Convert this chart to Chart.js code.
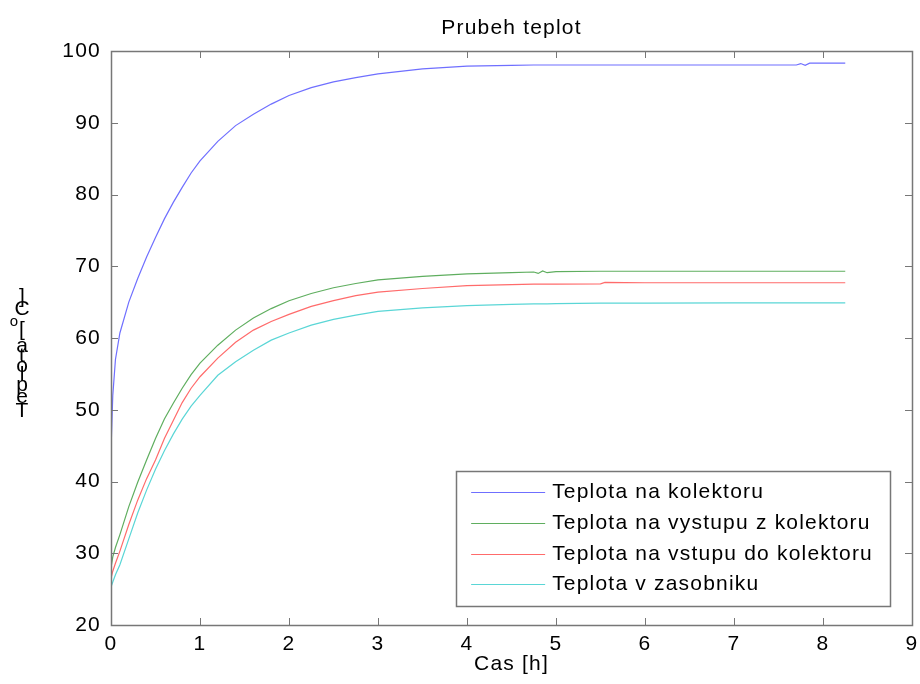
<!DOCTYPE html>
<html>
<head>
<meta charset="utf-8">
<title>Prubeh teplot</title>
<script src="https://cdn.jsdelivr.net/npm/chart.js@4"></script>
<style>
  html, body { margin: 0; padding: 0; background: #fff; }
  canvas { display: block; }
</style>
</head>
<body>
<canvas id="chart" width="920" height="684"></canvas>
<script>
// time axis [h], shared by all four series
const hours = [0, 0.02, 0.05, 0.1, 0.2, 0.3, 0.4, 0.5, 0.6, 0.7, 0.8, 0.9, 1.0, 1.2, 1.4, 1.6, 1.8, 2.0, 2.25, 2.5,
  2.75, 3.0, 3.5, 4.0, 4.5, 4.75, 4.8, 4.85, 4.9, 5.0, 5.5, 5.55, 6.0, 7.0, 7.7, 7.75, 7.8, 7.85, 8.0, 8.25];

// temperatures [oC]
const tKolektor = [44.4, 52.0, 57.0, 60.7, 65.0, 68.3, 71.3, 74.0, 76.6, 78.9, 81.0, 83.0, 84.7, 87.4, 89.6, 91.2, 92.6, 93.8, 94.9, 95.7,
  96.3, 96.8, 97.5, 97.9, 98.0, 98.05, 98.05, 98.05, 98.05, 98.05, 98.05, 98.05, 98.05, 98.05, 98.05, 98.25, 98.0, 98.3, 98.3, 98.3];
const tVystup = [28.0, 29.5, 30.8, 32.6, 36.5, 39.9, 43.0, 46.0, 48.7, 50.9, 53.0, 54.9, 56.5, 59.0, 61.1, 62.8, 64.1, 65.2, 66.2, 67.0,
  67.6, 68.1, 68.6, 68.95, 69.1, 69.2, 69.0, 69.35, 69.1, 69.25, 69.3, 69.3, 69.3, 69.3, 69.3, 69.3, 69.3, 69.3, 69.3, 69.3];
const tVstup = [26.5, 27.5, 28.6, 30.3, 34.0, 37.4, 40.4, 43.0, 46.0, 48.5, 51.0, 53.0, 54.6, 57.2, 59.4, 61.1, 62.3, 63.3, 64.4, 65.2,
  65.9, 66.4, 66.9, 67.3, 67.45, 67.5, 67.5, 67.5, 67.5, 67.5, 67.55, 67.75, 67.7, 67.7, 67.7, 67.7, 67.7, 67.7, 67.7, 67.7];
const tZasobnik = [25.3, 26.0, 27.0, 28.4, 32.0, 35.6, 38.8, 41.7, 44.3, 46.6, 48.7, 50.5, 52.0, 54.8, 56.7, 58.3, 59.7, 60.7, 61.8, 62.6,
  63.2, 63.7, 64.2, 64.5, 64.7, 64.75, 64.75, 64.75, 64.75, 64.8, 64.85, 64.85, 64.85, 64.9, 64.9, 64.9, 64.9, 64.9, 64.9, 64.9];

const seriesNames = ['Teplota na kolektoru', 'Teplota na vystupu z kolektoru', 'Teplota na vstupu do kolektoru', 'Teplota v zasobniku'];
const seriesColors = ['#6f6fff', '#5fae5f', '#ff6b6b', '#5ad6d6'];

const xTicks = { min: 0, max: 9, step: 1 };
const yTicks = { min: 20, max: 100, step: 10 };

const FONT = 'Liberation Sans, Arial, Helvetica, sans-serif';
const SPACING = '1.2px';

function toPoints(values) {
    return values.map((v, i) => ({ x: hours[i], y: v }));
}

// MATLAB-like text spacing
const spacingPlugin = {
    id: 'spacing',
    beforeUpdate(chart) { chart.ctx.letterSpacing = SPACING; },
    beforeLayout(chart) { chart.ctx.letterSpacing = SPACING; },
    beforeDraw(chart) {
        const ctx = chart.ctx;
        ctx.letterSpacing = SPACING;
        ctx.save();
        ctx.fillStyle = '#fff';
        ctx.fillRect(0, 0, chart.width, chart.height);
        ctx.restore();
    }
};

// box around the axes with inward tick marks on all four sides
const framePlugin = {
    id: 'frame',
    afterDraw(chart) {
        const { ctx, chartArea: a, scales } = chart;
        const len = 7;
        ctx.save();
        ctx.strokeStyle = '#777';
        ctx.lineWidth = 1;
        ctx.beginPath();
        scales.x.ticks.forEach(t => {
            const px = Math.round(scales.x.getPixelForValue(t.value)) + 0.5;
            ctx.moveTo(px, a.bottom); ctx.lineTo(px, a.bottom - len);
            ctx.moveTo(px, a.top); ctx.lineTo(px, a.top + len);
        });
        scales.y.ticks.forEach(t => {
            const py = Math.round(scales.y.getPixelForValue(t.value)) + 0.5;
            ctx.moveTo(a.left, py); ctx.lineTo(a.left + len, py);
            ctx.moveTo(a.right, py); ctx.lineTo(a.right - len, py);
        });
        ctx.stroke();
        ctx.lineWidth = 1.5;
        ctx.strokeRect(Math.round(a.left) + 0.5, Math.round(a.top) + 0.5, Math.round(a.right - a.left), Math.round(a.bottom - a.top));
        ctx.restore();
    }
};

// legend box in the lower right corner of the axes
const boxLegend = {
    id: 'boxLegend',
    afterDatasetsDraw(chart) {
        const { ctx, chartArea: a } = chart;
        const sets = chart.data.datasets;
        ctx.save();
        ctx.font = '21px ' + FONT;
        ctx.letterSpacing = SPACING;
        const textW = Math.max(...sets.map(d => ctx.measureText(d.label).width));
        const rowH = 30.7;
        const sample = 74;
        const w = 15 + sample + 7 + textW + 17;
        const h = rowH * sets.length + 12;
        const right = a.right - 22;
        const bottom = a.bottom - 19;
        const left = right - w;
        const top = bottom - h;
        ctx.fillStyle = '#fff';
        ctx.fillRect(left, top, w, h);
        ctx.strokeStyle = '#777';
        ctx.lineWidth = 1.5;
        ctx.strokeRect(Math.round(left) + 0.5, Math.round(top) + 0.5, Math.round(w), Math.round(h));
        ctx.textBaseline = 'middle';
        ctx.fillStyle = '#000';
        sets.forEach((d, i) => {
            const y = Math.round(top + 21 + i * rowH) + 0.5;
            ctx.strokeStyle = d.borderColor;
            ctx.lineWidth = 1;
            ctx.beginPath();
            ctx.moveTo(left + 15, y);
            ctx.lineTo(left + 15 + sample, y);
            ctx.stroke();
            ctx.fillText(d.label, left + 15 + sample + 7, y);
        });
        ctx.restore();
    }
};

// y label: upright glyphs stacked bottom to top
const yLabelPlugin = {
    id: 'yLabel',
    afterDraw(chart) {
        const ctx = chart.ctx;
        const text = 'Teplota [oC]';
        ctx.save();
        ctx.letterSpacing = '0px';
        ctx.fillStyle = '#000';
        ctx.textAlign = 'center';
        ctx.textBaseline = 'middle';
        let y = 418;
        for (let i = 0; i < text.length; i++) {
            const ch = text[i];
            const sup = (ch === 'o' && text[i + 1] === 'C');
            ctx.font = (sup ? '15px ' : '21px ') + FONT;
            const adv = ctx.measureText(ch).width + 1.1;
            if (ch !== ' ') {
                ctx.fillText(ch, sup ? 14 : 22, y - adv / 2);
            }
            y -= adv;
        }
        ctx.restore();
    }
};

const tickFont = { family: FONT, size: 21, weight: 'normal' };

new Chart(document.getElementById('chart'), {
    type: 'line',
    data: {
        datasets: [tKolektor, tVystup, tVstup, tZasobnik].map((vals, i) => ({
            label: seriesNames[i],
            data: toPoints(vals),
            borderColor: seriesColors[i],
            borderWidth: 1.2,
            pointRadius: 0,
            tension: 0,
            fill: false
        }))
    },
    options: {
        responsive: false,
        animation: false,
        events: [],
        layout: { padding: { left: 0, right: 8, top: 0, bottom: 0 } },
        plugins: {
            legend: { display: false },
            tooltip: { enabled: false },
            title: {
                display: true,
                fullSize: false,
                text: 'Prubeh teplot',
                color: '#000',
                font: tickFont,
                padding: { top: 16, bottom: 9.8 }
            }
        },
        scales: {
            x: {
                type: 'linear',
                min: xTicks.min,
                max: xTicks.max,
                ticks: { stepSize: xTicks.step, color: '#000', font: tickFont, padding: 7 },
                grid: { display: false, drawTicks: false },
                border: { display: false },
                title: { display: true, text: 'Cas [h]', color: '#000', font: tickFont, padding: { top: 0, bottom: 7 } },
                afterFit(scale) {
                    scale.height = 59;
                    scale.paddingRight = 0;
                }
            },
            y: {
                min: yTicks.min,
                max: yTicks.max,
                ticks: { stepSize: yTicks.step, color: '#000', font: tickFont, padding: 10 },
                grid: { display: false, drawTicks: false },
                border: { display: false },
                afterFit(scale) { scale.width = 111; }
            }
        }
    },
    plugins: [spacingPlugin, framePlugin, boxLegend, yLabelPlugin]
});
</script>
</body>
</html>
